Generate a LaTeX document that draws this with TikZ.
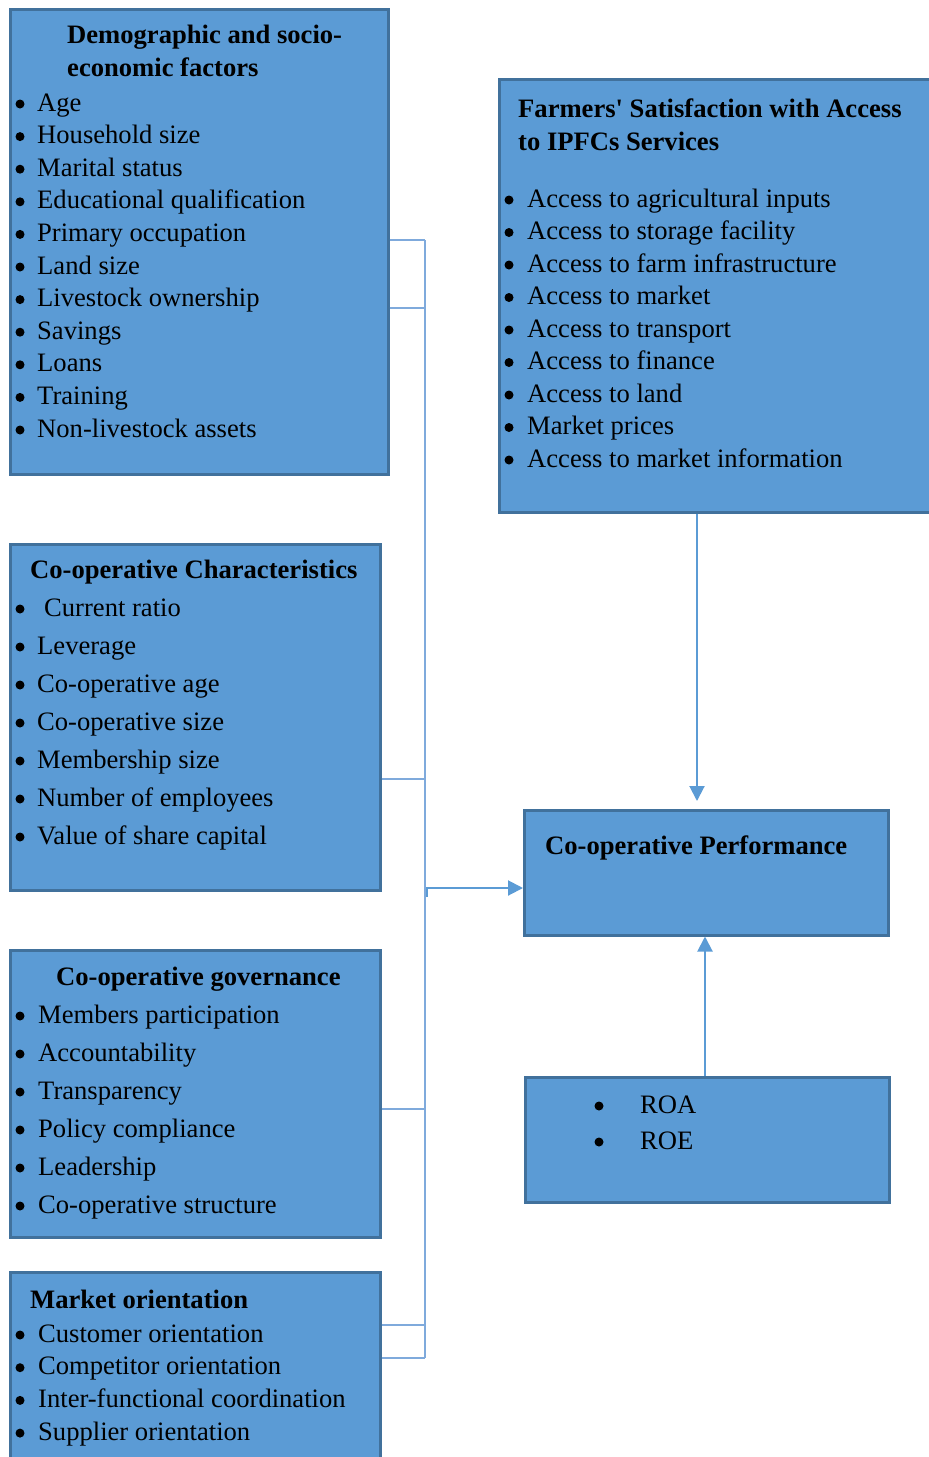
\documentclass[tikz,border=0pt]{standalone}
\usepackage{fontspec}
\setmainfont{Liberation Serif}
\newfontfamily\qfont{Liberation Serif}
\usetikzlibrary{arrows.meta}
\definecolor{boxfill}{HTML}{5B9BD5}
\definecolor{boxline}{HTML}{41719C}
\definecolor{conn}{HTML}{7FAADC}
\definecolor{arrc}{HTML}{5B9BD5}
\tikzset{
  box/.style={draw=boxline, line width=2.5pt, fill=boxfill, inner sep=0pt, anchor=north west},
  txt/.style={anchor=base west, inner sep=0pt, font=\fontsize{26.6}{32}\selectfont},
  ttl/.style={txt, font=\fontsize{26.6}{32}\selectfont\bfseries},
  bul/.style={circle, fill=black, inner sep=0pt, minimum size=9pt},
  conline/.style={draw=conn, line width=2pt},
  arr/.style={draw=arrc, line width=2pt, -{Triangle[length=15pt,width=15pt]}}
}
\begin{document}
\begin{tikzpicture}[x=1pt,y=-1pt]
\useasboundingbox (0,0) rectangle (929,1457);
% boxes
\node[box, minimum width=378pt, minimum height=465pt] (b1) at (9,8) {};
\node[box, minimum width=440pt, minimum height=433pt] (b2) at (498,78) {};
\node[box, minimum width=370pt, minimum height=346pt] (b3) at (9,543) {};
\node[box, minimum width=364pt, minimum height=125pt] (b4) at (523,809) {};
\node[box, minimum width=370pt, minimum height=287pt] (b5) at (9,949) {};
\node[box, minimum width=364pt, minimum height=125pt] (b6) at (524,1076) {};
\node[box, minimum width=370pt, minimum height=200pt] (b7) at (9,1271) {};
% box 1
\node[ttl] (t1a) at (67,43) {Demographic and socio-};
\node[ttl] (t1b) at (67,76) {economic factors};
\foreach \t [count=\i] in {Age,Household size,Marital status,Educational qualification,Primary occupation,Land size,Livestock ownership,Savings,Loans,Training,Non-livestock assets}{
  \node[bul] (d1\i) at (20,{104+32.6*(\i-1)}) {};
  \node[txt] (e1\i) at (37,{111+32.6*(\i-1)}) {\t};
}
% box 2
\node[ttl] (t2a) at (518,117) {Farmers{\qfont\bfseries '} Satisfaction with Access};
\node[ttl] (t2b) at (518,150) {to IPFCs Services};
\foreach \t [count=\i] in {Access to agricultural inputs,Access to storage facility,Access to farm infrastructure,Access to market,Access to transport,Access to finance,Access to land,Market prices,Access to market information}{
  \node[bul] (d2\i) at (509,{200+32.5*(\i-1)}) {};
  \node[txt] (e2\i) at (527,{207+32.5*(\i-1)}) {\t};
}
% box 3
\node[ttl] (t3) at (30,578) {Co-operative Characteristics};
\node[bul] (d31) at (20,609) {};
\node[txt] (e31) at (44,616) {Current ratio};
\foreach \t [count=\i from 2] in {Leverage,Co-operative age,Co-operative size,Membership size,Number of employees,Value of share capital}{
  \node[bul] (d3\i) at (20,{609+38*(\i-1)}) {};
  \node[txt] (e3\i) at (37,{616+38*(\i-1)}) {\t};
}
% box 4
\node[ttl] (t4) at (545,854) {Co-operative Performance};
% box 5
\node[ttl] (t5) at (56,985) {Co-operative governance};
\foreach \t [count=\i] in {Members participation,Accountability,Transparency,Policy compliance,Leadership,Co-operative structure}{
  \node[bul] (d5\i) at (20,{1016+38*(\i-1)}) {};
  \node[txt] (e5\i) at (38,{1023+38*(\i-1)}) {\t};
}
% box 6
\node[bul] (d61) at (599,1106) {};
\node[txt] (e61) at (640,1113) {ROA};
\node[bul] (d62) at (599,1142) {};
\node[txt] (e62) at (640,1149) {ROE};
% box 7
\node[ttl] (t7) at (30,1308) {Market orientation};
\foreach \t [count=\i] in {Customer orientation,Competitor orientation,Inter-functional coordination,Supplier orientation}{
  \node[bul] (d7\i) at (20,{1335+32.7*(\i-1)}) {};
  \node[txt] (e7\i) at (38,{1342+32.7*(\i-1)}) {\t};
}
% connectors
\coordinate (bt) at (425,240);
\coordinate (bb) at (425,1358);
\draw[conline] (bt) -- (bb);
\draw[conline] (bt -| b1.east) -- (bt);
\coordinate (c2) at (425,308);
\draw[conline] (c2 -| b1.east) -- (c2);
\coordinate (c3) at (425,779);
\draw[conline] (c3 -| b3.east) -- (c3);
\coordinate (c5) at (425,1109);
\draw[conline] (c5 -| b5.east) -- (c5);
\coordinate (c7) at (425,1325);
\draw[conline] (c7 -| b7.east) -- (c7);
\draw[conline] (bb -| b7.east) -- (bb);
\coordinate (jn) at (427,888);
\coordinate (jt) at (427,897);
\draw[arr] (jt) -- (jn) -- (jn -| b4.west);
\coordinate (a1) at (697,801);
\draw[arr] (a1 |- b2.south) -- (a1);
\coordinate (a2) at (705,1075);
\draw[arr] (a2 |- b6.north) -- (a2 |- b4.south);
\end{tikzpicture}
\end{document}
